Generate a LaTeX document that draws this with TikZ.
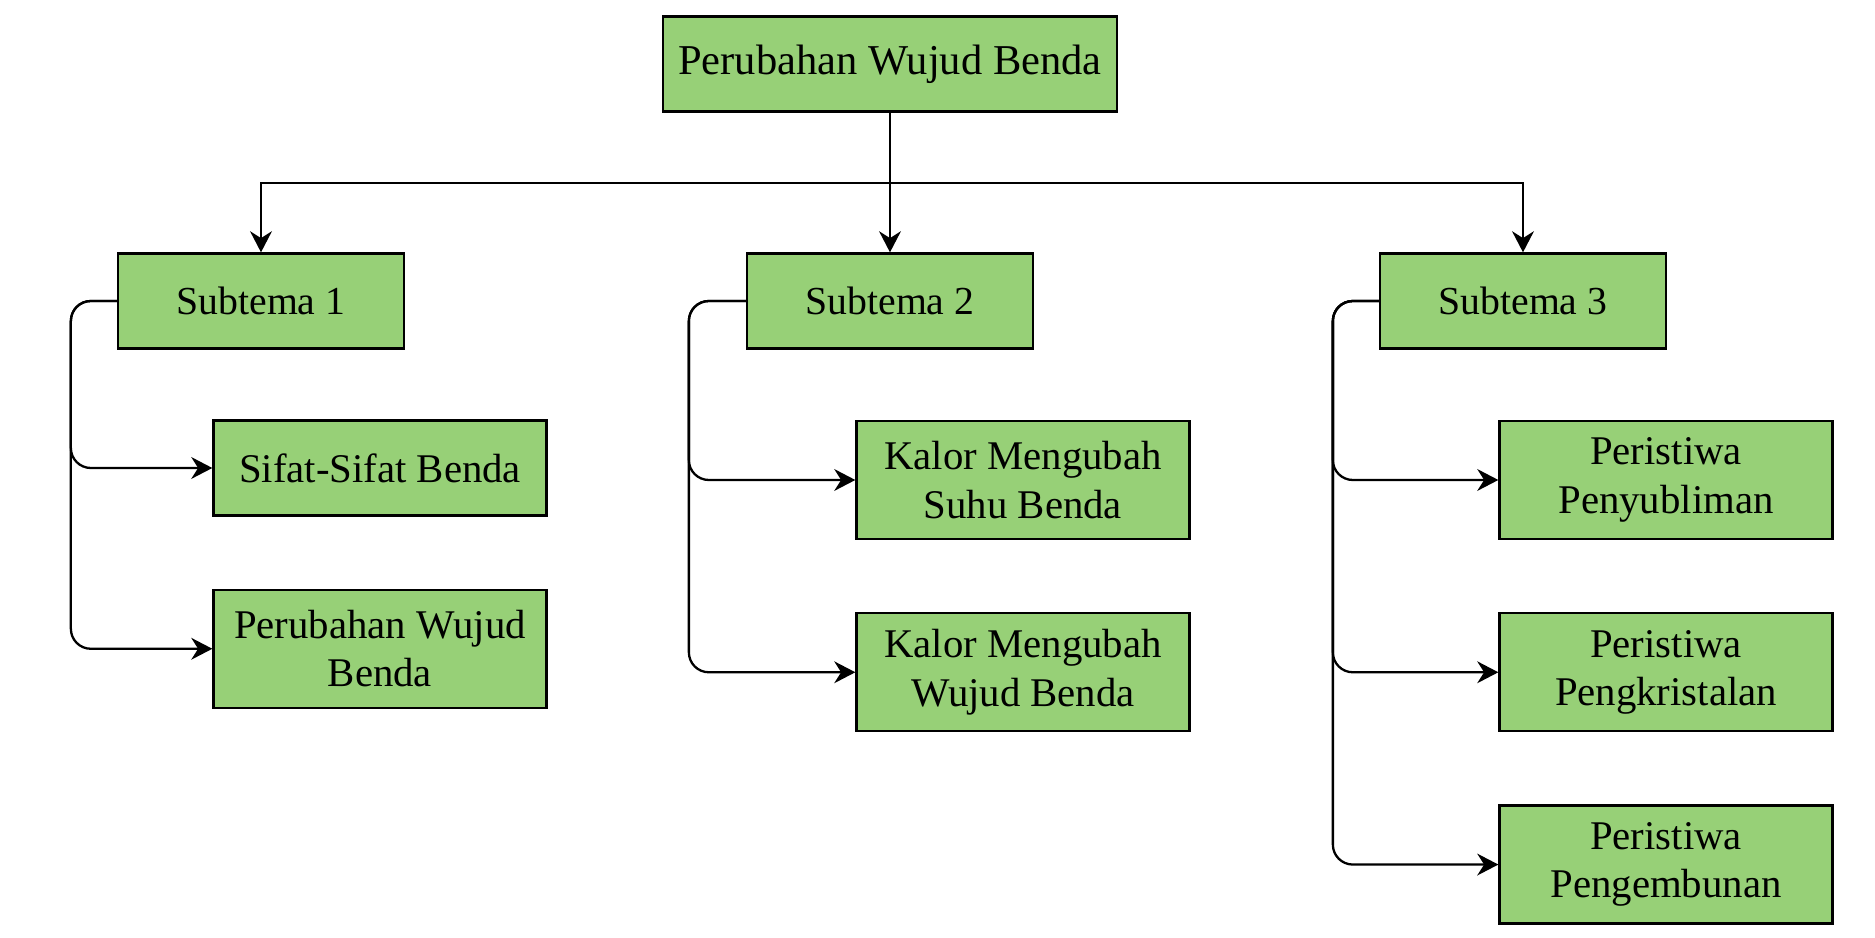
\documentclass[tikz,border=0pt]{standalone}
\usepackage{fontspec}
\setmainfont{Liberation Serif}
\usetikzlibrary{arrows.meta, positioning}
\definecolor{boxgreen}{RGB}{151,208,119}

\begin{document}
\begin{tikzpicture}[node distance=0.72cm, every node/.style={font=\fontsize{11.6}{13.8}\selectfont},
    box/.style={draw, rectangle, fill=boxgreen, line width=0.65pt, minimum height=0.95cm, align=center, inner sep=2pt},
    subbox/.style={box, minimum width=2.86cm, font=\fontsize{11.3}{13.8}\selectfont},
    leafbox/.style={box, minimum width=3.33cm},
    tall/.style={minimum height=1.18cm},
    link/.style={-{Stealth[length=6pt, width=6.2pt]}, line width=0.65pt},
    branch/.style={link, rounded corners=0.2cm}]
    \useasboundingbox (0,0) rectangle (18.75,9.38);

    \node[box, minimum width=4.54cm, font=\fontsize{12.1}{14}\selectfont] (top) at (8.90,8.74) {Perubahan Wujud Benda};

    \node[subbox] (sub1) at (2.61,6.37) {Subtema 1};
    \node[subbox] (sub2) at (8.90,6.37) {Subtema 2};
    \node[subbox] (sub3) at (15.23,6.37) {Subtema 3};

    \node[leafbox] (a1) at (3.80,4.70) {Sifat-Sifat Benda};
    \node[leafbox, tall, below=of a1] (a2) {Perubahan Wujud\\Benda};

    \node[leafbox, tall] (b1) at (10.23,4.58) {Kalor Mengubah\\Suhu Benda};
    \node[leafbox, tall, below=of b1] (b2) {Kalor Mengubah\\Wujud Benda};

    \node[leafbox, tall] (c1) at (16.66,4.58) {Peristiwa\\Penyubliman};
    \node[leafbox, tall, below=of c1] (c2) {Peristiwa\\Pengkristalan};
    \node[leafbox, tall, below=of c2] (c3) {Peristiwa\\Pengembunan};

    \coordinate (bus) at (8.90,7.55);
    \draw[link] (top.south) -- (sub2.north);
    \draw[link] (top.south) -- (bus) -| (sub1.north);
    \draw[link] (top.south) -- (bus) -| (sub3.north);

    \draw[branch] (sub1.west) -- ++(-0.46,0) |- (a1.west);
    \draw[branch] (sub1.west) -- ++(-0.46,0) |- (a2.west);
    \draw[branch] (sub2.west) -- ++(-0.57,0) |- (b1.west);
    \draw[branch] (sub2.west) -- ++(-0.57,0) |- (b2.west);
    \draw[branch] (sub3.west) -- ++(-0.46,0) |- (c1.west);
    \draw[branch] (sub3.west) -- ++(-0.46,0) |- (c2.west);
    \draw[branch] (sub3.west) -- ++(-0.46,0) |- (c3.west);
\end{tikzpicture}
\end{document}
